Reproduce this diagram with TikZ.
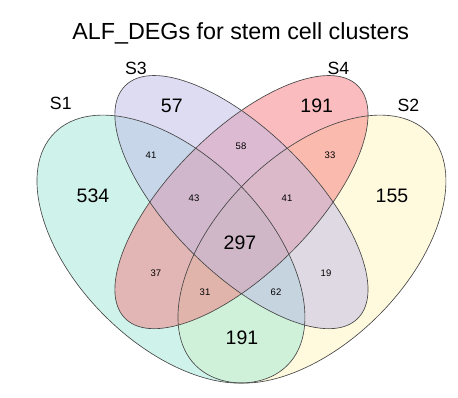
\documentclass[tikz,border=0pt]{standalone}
\usepackage{fontspec}
\setmainfont{Liberation Sans}
\definecolor{cA}{RGB}{160,232,215}
\definecolor{cB}{RGB}{255,245,190}
\definecolor{cC}{RGB}{190,185,230}
\definecolor{cD}{RGB}{245,122,125}
\definecolor{edge}{RGB}{70,70,70}
\tikzset{
  setfill/.style={fill=#1, fill opacity=0.5},
  setline/.style={draw=edge, line width=0.65pt},
  big/.style={anchor=base, font=\fontsize{19.5}{20}\selectfont, inner sep=0pt},
  small/.style={anchor=base, font=\fontsize{9.5}{10}\selectfont, inner sep=0pt},
  setname/.style={anchor=base, font=\fontsize{17.7}{18}\selectfont, inner sep=0pt},
  titletext/.style={anchor=base, font=\fontsize{23.3}{24}\selectfont, inner sep=0pt}
}
\begin{document}
\begin{tikzpicture}[x=1pt,y=1pt]
\useasboundingbox (0,0) rectangle (458,-397);
\coordinate (cS1) at (170.95,-249.1);
\coordinate (cS2) at (311.95,-249.1);
\coordinate (cS3) at (241.45,-202.1);
\coordinate (cS4) at (241.45,-202.1);
% fills
\path[setfill=cB, rotate around={45:(cS2)}] (cS2) ellipse [x radius=164.5pt, y radius=94pt];
\path[setfill=cA, rotate around={-45:(cS1)}] (cS1) ellipse [x radius=164.5pt, y radius=94pt];
\path[setfill=cD, rotate around={45:(cS4)}] (cS4) ellipse [x radius=164.5pt, y radius=70.5pt];
\path[setfill=cC, rotate around={-45:(cS3)}] (cS3) ellipse [x radius=164.5pt, y radius=70.5pt];
% outlines
\path[setline, rotate around={45:(cS2)}] (cS2) ellipse [x radius=164.5pt, y radius=94pt];
\path[setline, rotate around={-45:(cS1)}] (cS1) ellipse [x radius=164.5pt, y radius=94pt];
\path[setline, rotate around={45:(cS4)}] (cS4) ellipse [x radius=164.5pt, y radius=70.5pt];
\path[setline, rotate around={-45:(cS3)}] (cS3) ellipse [x radius=164.5pt, y radius=70.5pt];
% title and set names
\node[titletext] (title) at (240.7,-39.3) {ALF\_DEGs for stem cell clusters};
\node[setname] (nS1) at (60.8,-109.3) {S1};
\node[setname] (nS3) at (136,-74) {S3};
\node[setname] (nS4) at (338.5,-74) {S4};
\node[setname] (nS2) at (408.5,-111) {S2};
% counts
\node[big] (r534) at (93,-202.7) {534};
\node[big] (r155) at (392,-202.7) {155};
\node[big] (r57) at (171.8,-112.3) {57};
\node[big] (r191a) at (316.7,-112.3) {191};
\node[big] (r297) at (240,-249.3) {297};
\node[big] (r191b) at (242,-344.3) {191};
\node[small] (r41a) at (151,-158.3) {41};
\node[small] (r58) at (241,-149.3) {58};
\node[small] (r33) at (330,-158.7) {33};
\node[small] (r43) at (194,-201) {43};
\node[small] (r41b) at (287,-201) {41};
\node[small] (r37) at (156,-276.3) {37};
\node[small] (r19) at (326,-276.3) {19};
\node[small] (r31) at (205,-295.3) {31};
\node[small] (r62) at (276,-295.3) {62};
\end{tikzpicture}
\end{document}
